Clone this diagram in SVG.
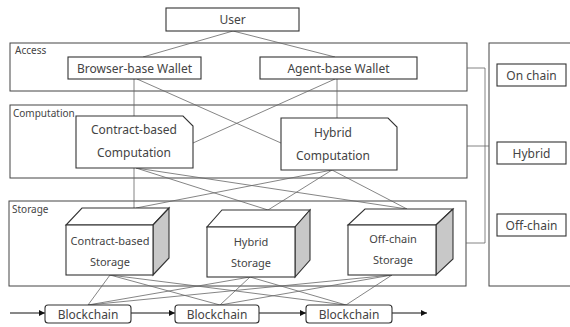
<svg xmlns="http://www.w3.org/2000/svg" width="570" height="327" viewBox="0 0 570 327">
<defs>
<style>
.box{fill:#fff;stroke:#333;stroke-width:1.1}
.frame{fill:none;stroke:#444;stroke-width:1}
.side{fill:#c8c8c8;stroke:#333;stroke-width:1.1}
.t{font-family:"Noto Sans","Open Sans",sans-serif;fill:#444;text-anchor:middle;font-size:12px}
.s{font-family:"Noto Sans","Open Sans",sans-serif;fill:#444;text-anchor:middle;font-size:11px}
.lbl{font-family:"Noto Sans","Open Sans",sans-serif;fill:#444;font-size:10px}
.c{stroke:#666;stroke-width:0.8;fill:none}
.a{stroke:#111;stroke-width:1;fill:none;marker-end:url(#ah)}
</style>
<marker id="ah" viewBox="0 0 10 10" refX="10" refY="5" markerWidth="6" markerHeight="6" orient="auto" markerUnits="userSpaceOnUse">
<path d="M0,0 L10,5 L0,10 Z" fill="#111"/>
</marker>
</defs>

<g id="containers">
<rect id="access" class="frame" x="10" y="43" width="457" height="48"/>
<text class="lbl" x="15" y="54">Access</text>
<rect id="computation" class="frame" x="10" y="105" width="457" height="73"/>
<text class="lbl" x="13" y="117">Computation</text>
<rect id="storage" class="frame" x="9" y="201" width="457" height="85"/>
<text class="lbl" x="12" y="213">Storage</text>
<rect id="right-panel" class="frame" x="489" y="43" width="100" height="243"/>
</g>

<g id="connectors">
<path class="c" d="M233,31 L143,57 M233,31 L335,57"/>
<path class="c" d="M134,79 L134,116 M337,79 L337,118 M137,79 L281,143 M335,79 L193,143"/>
<path class="c" d="M134,168 L134,208 M136,168 L268,210 M136,168 L407,209 M332,170 L136,208 M332,170 L268,210 M332,170 L407,209"/>
<path class="c" d="M110,275 L88,305 M110,275 L220,305 M110,275 L346,305 M250,277 L88,305 M250,277 L220,305 M250,277 L346,305 M392,275 L88,305 M392,275 L220,305 M392,275 L346,305"/>
<path class="c" d="M467,68 H485 V243 H466 M467,146 H489"/>
<path class="a" d="M10,313 H45"/>
<path class="a" d="M131,313 H175"/>
<path class="a" d="M259,313 H306"/>
<path class="a" d="M392,313 H427"/>
</g>

<g id="user">
<rect class="box" x="166" y="8" width="133" height="23"/>
<text class="t" x="232.5" y="24">User</text>
</g>

<g id="browser-wallet">
<rect class="box" x="68" y="57" width="133" height="22"/>
<text class="t" x="134.5" y="72.5">Browser-base Wallet</text>
</g>

<g id="agent-wallet">
<rect class="box" x="260" y="57" width="157" height="22"/>
<text class="t" x="338.5" y="72.5">Agent-base Wallet</text>
</g>

<g id="contract-computation">
<path class="box" d="M76,116 H183 L193,126 V168 H76 Z"/>
<text class="t" x="134" y="134">Contract-based</text>
<text class="t" x="134" y="157">Computation</text>
</g>

<g id="hybrid-computation">
<path class="box" d="M281,118 H388 L397,127 V170 H281 Z"/>
<text class="t" x="333" y="137">Hybrid</text>
<text class="t" x="333" y="160">Computation</text>
</g>

<g id="contract-storage">
<polygon class="box" points="66,225 153,225 169,208 82,208"/>
<polygon class="side" points="153,225 169,208 169,258 153,275"/>
<rect class="box" x="66" y="225" width="87" height="50"/>
<text class="s" x="110" y="245">Contract-based</text>
<text class="s" x="110" y="266">Storage</text>
</g>

<g id="hybrid-storage">
<polygon class="box" points="207,227 295,227 310,210 222,210"/>
<polygon class="side" points="295,227 310,210 310,260 295,277"/>
<rect class="box" x="207" y="227" width="88" height="50"/>
<text class="s" x="251" y="246">Hybrid</text>
<text class="s" x="251" y="267">Storage</text>
</g>

<g id="offchain-storage">
<polygon class="box" points="348,225 436,225 453,209 365,209"/>
<polygon class="side" points="436,225 453,209 453,259 436,275"/>
<rect class="box" x="348" y="225" width="88" height="50"/>
<text class="s" x="393" y="243">Off-chain</text>
<text class="s" x="393" y="264">Storage</text>
</g>

<g id="blockchain-1">
<rect class="box" x="45" y="305" width="86" height="18" rx="3"/>
<text class="t" x="88" y="318.5">Blockchain</text>
</g>
<g id="blockchain-2">
<rect class="box" x="175" y="305" width="84" height="18" rx="3"/>
<text class="t" x="217" y="318.5">Blockchain</text>
</g>
<g id="blockchain-3">
<rect class="box" x="306" y="305" width="86" height="18" rx="3"/>
<text class="t" x="349" y="318.5">Blockchain</text>
</g>

<g id="on-chain">
<rect class="box" x="497" y="64" width="69" height="22"/>
<text class="t" x="531.5" y="79.5">On chain</text>
</g>
<g id="hybrid">
<rect class="box" x="497" y="142" width="69" height="22"/>
<text class="t" x="531.5" y="157.5">Hybrid</text>
</g>
<g id="off-chain">
<rect class="box" x="497" y="214" width="69" height="22"/>
<text class="t" x="531.5" y="229.5">Off-chain</text>
</g>
</svg>
